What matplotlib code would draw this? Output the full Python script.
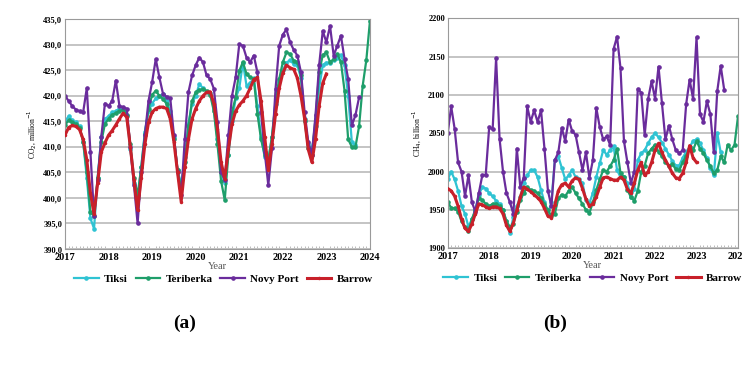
import numpy as np
import matplotlib.pyplot as plt

plt.rcParams['font.family'] = ['Liberation Serif', 'DejaVu Serif']

# monthly values starting Jan 2017
co2_tiksi = [415.0, 416.0, 415.2, 414.8, 414.0, 411.0, 404.0, 396.0, 394.0, 404.0, 412.0, 415.5,
             416.0, 416.8, 417.0, 417.5, 417.6, 416.0, 409.5, 403.0, 400.0, 406.0, 413.0, 417.0,
             418.5, 419.5, 420.0, 420.3, 419.0, 417.0, 412.0, 405.5, 402.5, 408.0, 414.5, 418.5,
             420.0, 422.3, 421.5, 420.8, 420.5, 417.5, 411.5, 405.0, 403.0, 408.5, 415.0, 419.5,
             421.5, 426.5, 422.0, 422.5, 423.5, 418.0, 412.0, 408.0, 407.0, 412.0, 418.5, 423.0,
             425.0, 426.5, 427.0, 426.2, 426.0, 423.5, 415.5, 410.5, 409.5, 414.0, 421.5, 426.0,
             426.5, 426.5, 427.0, 427.5, 428.0, 426.0, 420.0, 411.0, 410.3]
co2_teriberka = [414.3, 415.2, 414.8, 414.5, 413.8, 411.0, 405.0, 397.2, 396.5, 404.0, 411.0, 414.5,
                 415.5, 416.3, 416.6, 417.0, 417.3, 416.2, 410.5, 404.0, 400.5, 406.0, 412.5, 417.5,
                 420.2, 421.0, 420.0, 419.4, 418.4, 416.0, 411.5, 405.5, 402.0, 407.0, 414.0, 419.0,
                 420.7, 421.2, 421.3, 421.0, 420.2, 417.0, 410.5, 403.3, 399.6, 408.5, 416.8, 419.7,
                 424.9, 426.6, 424.3, 423.6, 423.3, 416.5, 411.5, 408.5, 407.5, 412.0, 419.0, 423.3,
                 426.6, 428.5, 428.2, 426.9, 426.6, 424.0, 415.0, 409.7, 408.4, 415.5, 424.6, 428.0,
                 428.5, 426.6, 427.2, 428.2, 426.6, 421.0, 411.5, 410.0, 410.0, 414.0, 422.0, 427.0,
                 434.7]
co2_novy = [420.0, 419.0, 418.0, 417.3, 417.0, 416.8, 421.5, 409.0, 396.5, 403.5, 412.0, 418.5,
            418.0, 419.0, 423.0, 418.0, 417.8, 417.5, 410.0, 402.5, 395.0, 405.0, 412.3, 419.0,
            422.7, 427.2, 423.6, 420.4, 419.8, 419.5, 412.3, 405.0, 400.5, 411.6, 420.7, 424.0,
            426.0, 427.5, 426.6, 424.0, 423.3, 421.4, 414.9, 405.1, 403.5, 412.3, 420.0, 423.6,
            430.1, 429.8, 427.5, 426.6, 427.9, 424.6, 416.8, 409.0, 402.5, 409.7, 421.4, 429.8,
            432.0, 433.0, 430.5, 429.0, 427.9, 424.6, 416.8, 411.0, 408.4, 416.2, 426.0, 432.7,
            430.5, 433.7, 427.9, 429.8, 431.8, 427.2, 423.3, 414.2, 416.2, 419.7]
co2_barrow = [412.3, 413.8, 414.2, 414.0, 413.4, 411.5, 407.5, 401.0, 396.8, 403.0, 409.0, 410.8,
              412.3, 413.2, 414.3, 415.5, 416.6, 415.8, 410.0, 403.5, 397.6, 404.0, 410.5, 414.8,
              416.8, 417.5, 417.8, 417.8, 417.5, 415.5, 411.0, 405.0, 399.3, 406.0, 411.5, 415.5,
              417.5, 419.0, 420.0, 420.7, 420.8, 418.5, 413.5, 407.0, 403.8, 409.5, 414.5, 417.0,
              418.2, 419.0, 420.0, 421.5, 423.2, 423.6, 419.0, 412.0, 405.5, 410.5, 416.5, 421.5,
              424.5, 426.0, 425.5, 425.2, 423.5, 420.0, 415.5, 409.5, 407.0, 411.5, 418.0, 422.5,
              424.3]

ch4_tiksi = [1990, 2000, 1990, 1975, 1955, 1945, 1928, 1938, 1950, 1970, 1980, 1978,
             1972, 1968, 1962, 1958, 1950, 1935, 1920, 1941, 1955, 1967, 1985, 1995,
             2002, 2002, 1993, 1976, 1960, 1945, 1960, 2015, 2020, 2005, 1990, 1995,
             2002, 1993, 1990, 1985, 1963, 1959, 1972, 1993, 2011, 2028, 2022, 2028,
             2033, 2002, 1993, 1993, 1985, 1967, 1978, 2015, 2024, 2028, 2037, 2045,
             2050, 2045, 2038, 2030, 2022, 2014, 2008, 2008, 2018, 2026, 2032, 2040,
             2042, 2037, 2028, 2018, 2005, 1995, 2050, 2025]
ch4_teriberka = [1960, 1953, 1952, 1948, 1935, 1928, 1922, 1938, 1950, 1965, 1963, 1958,
                 1955, 1958, 1958, 1955, 1950, 1935, 1928, 1932, 1948, 1963, 1972, 1980,
                 1976, 1975, 1972, 1966, 1958, 1950, 1942, 1945, 1965, 1970, 1968, 1975,
                 1980, 1972, 1965, 1958, 1950, 1946, 1960, 1976, 1990, 2002, 2000, 2007,
                 2015, 2030, 1998, 1993, 1976, 1967, 1962, 1975, 2000, 2008, 2024, 2030,
                 2035, 2026, 2020, 2012, 2008, 2010, 2003, 2002, 2012, 2020, 2032, 2028,
                 2040, 2030, 2024, 2015, 2007, 1998, 2002, 2020, 2012, 2035, 2028, 2035,
                 2072]
ch4_novy = [2050, 2085, 2056, 2012, 2000, 1968, 1995, 1960, 1948, 1972, 1995, 1996,
            2058, 2055, 2148, 2043, 2000, 1972, 1960, 1945, 2030, 1980, 1992, 2085,
            2065, 2080, 2065, 2080, 2030, 1975, 1955, 2015, 2025, 2057, 2040, 2068,
            2053, 2048, 2025, 2002, 2025, 1992, 2015, 2083, 2058, 2042, 2046, 2035,
            2160, 2176, 2135, 2040, 2012, 1985, 2000, 2108, 2103, 2048, 2095, 2118,
            2095, 2137, 2089, 2042, 2060, 2042, 2028, 2024, 2028, 2088, 2120, 2095,
            2175, 2075, 2065, 2092, 2075, 2025, 2105, 2138, 2107]
ch4_barrow = [1978, 1975, 1968, 1955, 1938, 1926, 1922, 1932, 1945, 1958, 1957, 1954,
              1952, 1954, 1954, 1952, 1945, 1930, 1922, 1933, 1950, 1967, 1980, 1977,
              1974, 1970, 1966, 1961, 1952, 1942, 1940, 1957, 1975, 1983, 1985, 1980,
              1988, 1992, 1990, 1978, 1964, 1955, 1958, 1967, 1980, 1992, 1993, 1991,
              1989, 1989, 1993, 1989, 1977, 1972, 1985, 2002, 2012, 1995, 2000, 2012,
              2028, 2037, 2025, 2015, 2007, 1998, 1992, 1991, 1998, 2012, 2034, 2018,
              2012]

stations = ['Tiksi', 'Teriberka', 'Novy Port', 'Barrow']
colors = ['#2fc3d3', '#1e9e6a', '#6a2c9c', '#c8202a']


def years(vals):
    return 2017 + np.arange(len(vals)) / 12.0


fig = plt.figure(figsize=(7.42, 3.67), dpi=100)
ax1 = fig.add_axes([0.0876, 0.3215, 0.411, 0.626])
ax2 = fig.add_axes([0.6034, 0.3234, 0.3912, 0.6267])

panels = [
    (ax1, [co2_tiksi, co2_teriberka, co2_novy, co2_barrow], (390, 435), 5,
     'CO$_2$, million$^{-1}$', lambda v: f'{v:.1f}'.replace('.', ','), 0.52),
    (ax2, [ch4_tiksi, ch4_teriberka, ch4_novy, ch4_barrow], (1900, 2200), 50,
     'CH$_4$, billion$^{-1}$', lambda v: f'{v:.0f}', 0.5),
]

for ax, series, ylim, step, ylab, fmt, lx in panels:
    for name, vals, c in zip(stations, series, colors):
        if name == 'Barrow':
            ax.plot(years(vals), vals, color=c, lw=2.2, marker='o', ms=1.5, label=name, zorder=5)
        else:
            ax.plot(years(vals), vals, color=c, lw=1.6, marker='o', ms=2.3, label=name)
    ax.set_xlim(2017, 2024)
    ax.set_ylim(*ylim)
    yt = np.arange(ylim[0], ylim[1] + step / 2, step)
    ax.set_yticks(yt)
    ax.set_yticklabels([fmt(v) for v in yt], fontsize=6, fontweight='bold')
    ax.set_xticks(np.arange(2017, 2025))
    ax.set_xticklabels([str(y) for y in range(2017, 2025)], fontsize=7.5, fontweight='bold')
    ax.set_xticks(2017 + np.arange(0, 85) / 12.0, minor=True)
    ax.tick_params(axis='x', which='major', length=0, pad=3)
    ax.tick_params(axis='x', which='minor', length=2, color='#b0b0b0', direction='in')
    ax.tick_params(axis='y', length=0, pad=2)
    ax.grid(axis='y', color='#c4c4c4', lw=1.4)
    ax.set_axisbelow(True)
    for s in ax.spines.values():
        s.set_color('#9a9a9a')
        s.set_linewidth(0.8)
    ax.set_xlabel('Year', fontsize=7.5, labelpad=0, color='#555555')
    ax.set_ylabel(ylab, fontsize=5.5, labelpad=3)
    ax.legend(loc='upper center', bbox_to_anchor=(lx, -0.09), ncol=4, frameon=False,
              prop={'weight': 'bold', 'size': 8}, handlelength=2.2, columnspacing=0.7,
              handletextpad=0.5, borderaxespad=0)

fig.text(185 / 742, 1 - 323 / 367, '(a)', fontsize=14, fontweight='bold', ha='center', va='center')
fig.text(555 / 742, 1 - 323 / 367, '(b)', fontsize=14, fontweight='bold', ha='center', va='center')

fig.savefig('out.png', dpi=100)
